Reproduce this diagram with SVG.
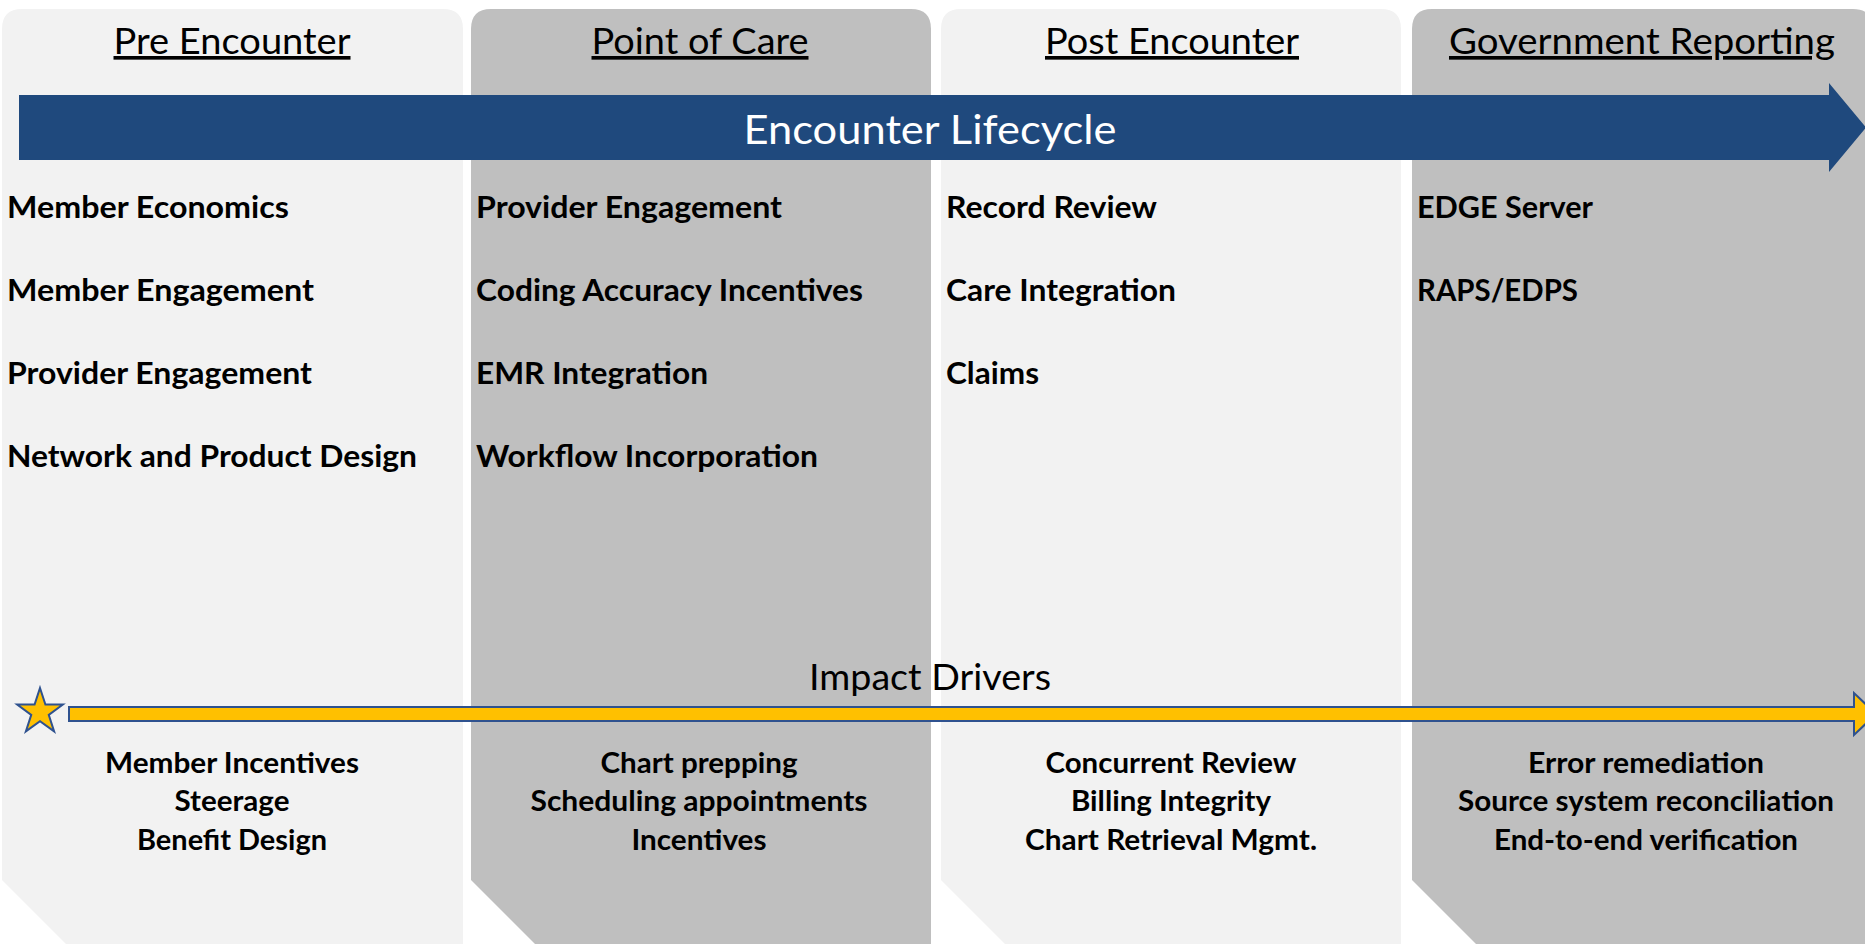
<svg xmlns="http://www.w3.org/2000/svg" width="1865" height="944" viewBox="0 0 1865 944">
  <style>
    .light { fill: #F2F2F2; }
    .dark { fill: #BFBFBF; }
    .head { font-family: Lato, "Open Sans", sans-serif; font-size: 36.5px; fill: #000; text-anchor: middle; text-decoration: underline; }
    .item { font-family: Lato, "Open Sans", sans-serif; font-weight: bold; font-size: 30.3px; fill: #000; }
    .drv { font-family: Lato, "Open Sans", sans-serif; font-weight: bold; font-size: 28px; fill: #000; text-anchor: middle; }
    .banner { font-family: Lato, "Open Sans", sans-serif; font-size: 41.5px; fill: #FFFFFF; text-anchor: middle; }
    .label { font-family: Lato, "Open Sans", sans-serif; font-size: 36.5px; fill: #000; text-anchor: middle; }
  </style>

  <rect width="1865" height="944" fill="#FFFFFF"/>

  <!-- Stage columns: rounded top corners, clipped bottom-left corner -->
  <g id="pre-encounter">
    <path class="light" d="M2,29 Q2,9 22,9 L443,9 Q463,9 463,29 L463,944 L66,944 L2,880 Z"/>
    <text class="head" x="232" y="54" textLength="237" lengthAdjust="spacingAndGlyphs">Pre Encounter</text>
    <text class="item" x="7" y="218" textLength="282" lengthAdjust="spacingAndGlyphs">Member Economics</text>
    <text class="item" x="7" y="301" textLength="307" lengthAdjust="spacingAndGlyphs">Member Engagement</text>
    <text class="item" x="7" y="384" textLength="305" lengthAdjust="spacingAndGlyphs">Provider Engagement</text>
    <text class="item" x="7" y="467" textLength="410" lengthAdjust="spacingAndGlyphs">Network and Product Design</text>
    <text class="drv" x="232" y="772.5" textLength="254" lengthAdjust="spacingAndGlyphs">Member Incentives</text>
    <text class="drv" x="232" y="811" textLength="115" lengthAdjust="spacingAndGlyphs">Steerage</text>
    <text class="drv" x="232" y="849.5" textLength="190" lengthAdjust="spacingAndGlyphs">Benefit Design</text>
  </g>

  <g id="point-of-care">
    <path class="dark" d="M471,29 Q471,9 491,9 L911,9 Q931,9 931,29 L931,944 L535,944 L471,880 Z"/>
    <text class="head" x="700" y="54" textLength="217" lengthAdjust="spacingAndGlyphs">Point of Care</text>
    <text class="item" x="476" y="218" textLength="306" lengthAdjust="spacingAndGlyphs">Provider Engagement</text>
    <text class="item" x="476" y="301" textLength="387" lengthAdjust="spacingAndGlyphs">Coding Accuracy Incentives</text>
    <text class="item" x="476" y="384" textLength="232" lengthAdjust="spacingAndGlyphs">EMR Integration</text>
    <text class="item" x="476" y="467" textLength="342" lengthAdjust="spacingAndGlyphs">Workflow Incorporation</text>
    <text class="drv" x="699" y="772.5" textLength="197" lengthAdjust="spacingAndGlyphs">Chart prepping</text>
    <text class="drv" x="699" y="811" textLength="337" lengthAdjust="spacingAndGlyphs">Scheduling appointments</text>
    <text class="drv" x="699" y="849.5" textLength="135" lengthAdjust="spacingAndGlyphs">Incentives</text>
  </g>

  <g id="post-encounter">
    <path class="light" d="M941,29 Q941,9 961,9 L1381,9 Q1401,9 1401,29 L1401,944 L1005,944 L941,880 Z"/>
    <text class="head" x="1172" y="54" textLength="254" lengthAdjust="spacingAndGlyphs">Post Encounter</text>
    <text class="item" x="946" y="218" textLength="211" lengthAdjust="spacingAndGlyphs">Record Review</text>
    <text class="item" x="946" y="301" textLength="230" lengthAdjust="spacingAndGlyphs">Care Integration</text>
    <text class="item" x="946" y="384" textLength="93" lengthAdjust="spacingAndGlyphs">Claims</text>
    <text class="drv" x="1171" y="772.5" textLength="251" lengthAdjust="spacingAndGlyphs">Concurrent Review</text>
    <text class="drv" x="1171" y="811" textLength="200" lengthAdjust="spacingAndGlyphs">Billing Integrity</text>
    <text class="drv" x="1171" y="849.5" textLength="292" lengthAdjust="spacingAndGlyphs">Chart Retrieval Mgmt.</text>
  </g>

  <g id="government-reporting">
    <path class="dark" d="M1412,29 Q1412,9 1432,9 L1853,9 Q1873,9 1873,29 L1873,944 L1476,944 L1412,880 Z"/>
    <text class="head" x="1642" y="54" textLength="386" lengthAdjust="spacingAndGlyphs">Government Reporting</text>
    <text class="item" x="1417" y="218" textLength="176" lengthAdjust="spacingAndGlyphs">EDGE Server</text>
    <text class="item" x="1417" y="301" textLength="161" lengthAdjust="spacingAndGlyphs">RAPS/EDPS</text>
    <text class="drv" x="1646" y="772.5" textLength="236" lengthAdjust="spacingAndGlyphs">Error remediation</text>
    <text class="drv" x="1646" y="811" textLength="376" lengthAdjust="spacingAndGlyphs">Source system reconciliation</text>
    <text class="drv" x="1646" y="849.5" textLength="304" lengthAdjust="spacingAndGlyphs">End-to-end verification</text>
  </g>

  <!-- Lifecycle and driver arrows spanning all stages -->
  <g id="connectors">
    <g id="encounter-lifecycle">
      <polygon points="19,95 1829,95 1829,83 1866,127.5 1829,172 1829,160 19,160" fill="#1F497D"/>
      <text class="banner" x="930" y="143.5" textLength="373" lengthAdjust="spacingAndGlyphs">Encounter Lifecycle</text>
    </g>
    <g id="impact-drivers">
      <text class="label" x="930" y="690" textLength="242" lengthAdjust="spacingAndGlyphs">Impact Drivers</text>
      <polygon points="69,707 1854,707 1854,693 1876,714 1854,735 1854,721 69,721" fill="#FFC000" stroke="#2F528F" stroke-width="2" stroke-linejoin="miter"/>
      <polygon points="40,688 45.41,704.56 62.83,704.58 48.75,714.84 54.11,731.42 40,721.2 25.89,731.42 31.25,714.84 17.17,704.58 34.59,704.56" fill="#FFC000" stroke="#2F528F" stroke-width="2"/>
    </g>
  </g>
</svg>
